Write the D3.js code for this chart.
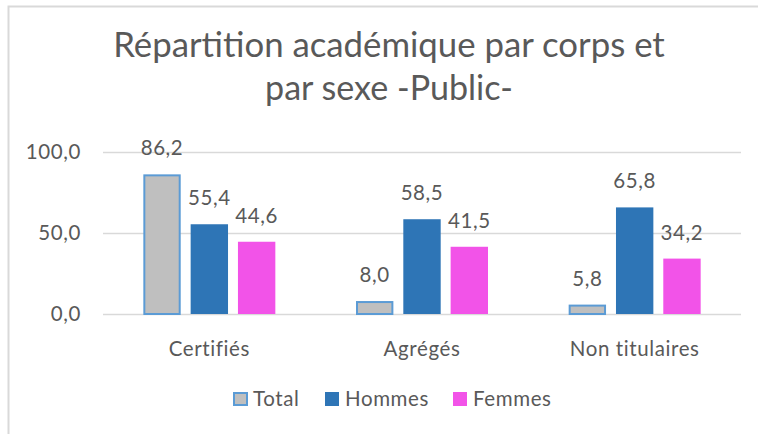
<!DOCTYPE html>
<html><head><meta charset="utf-8">
<script src="https://cdn.jsdelivr.net/npm/d3@7"></script>
<style>body{margin:0;background:#fff}svg{display:block}text{font-family:Lato,"Open Sans",sans-serif;fill:#595959}</style>
</head><body>
<script>
const categories = ["Certifiés", "Agrégés", "Non titulaires"];
const seriesNames = ["Total", "Hommes", "Femmes"];
const totalValues = [86.2, 8.0, 5.8];
const hommesValues = [55.4, 58.5, 65.8];
const femmesValues = [44.6, 41.5, 34.2];
const yTicks = [0, 50, 100];
const titleLines = ["Répartition académique par corps et", "par sexe -Public-"];

const W = 758, H = 434;
const fmt = v => v.toFixed(1).replace(".", ",");
const svg = d3.select("body").append("svg").attr("width", W).attr("height", H);
svg.append("rect").attr("width", W).attr("height", H).attr("fill", "#fff");
svg.append("path").attr("d", `M8.5,${H} V6.5 H${W}`).attr("fill", "none").attr("stroke", "#D9D9D9").attr("stroke-width", 2);

const titleTargets = [552, 248];
titleLines.forEach((t, i) => {
  const el = svg.append("text").attr("x", 389).attr("y", [57, 100][i]).attr("text-anchor", "middle").attr("font-size", 30).text(t);
  const w = el.node().getComputedTextLength();
  el.attr("font-size", 30 * titleTargets[i] / w);
});

const FS = 20.5, LS = 0.6;
const left = 103, right = 741;
const y = d3.scaleLinear().domain([0, 100]).range([314, 152]);
const x0 = d3.scaleBand().domain(categories).range([left, right]).padding(0);
const groupW = 132;
const x1 = d3.scaleBand().domain(seriesNames).range([0, groupW]).paddingInner(0.21);

svg.append("g").selectAll("line").data(yTicks).join("line")
  .attr("x1", left).attr("x2", right).attr("y1", d => Math.round(y(d)) + 0.5).attr("y2", d => Math.round(y(d)) + 0.5)
  .attr("stroke", "#D9D9D9").attr("stroke-width", 1.5);
svg.append("g").selectAll("text").data(yTicks).join("text")
  .attr("x", 81).attr("y", d => y(d) + 7).attr("text-anchor", "end").attr("font-size", FS).attr("letter-spacing", LS).text(d => fmt(d));

const data = [totalValues, hommesValues, femmesValues];
const fills = ["#BFBFBF", "#2E75B6", "#F253E8"];
const strokes = ["#5B9BD5", "none", "none"];
seriesNames.forEach((s, si) => {
  const g = svg.append("g");
  categories.forEach((c, ci) => {
    const v = data[si][ci];
    const gx = x0(c) + (x0.bandwidth() - groupW) / 2;
    const bx = gx + x1(s);
    if (si === 0) {
      g.append("rect").attr("x", bx + 1).attr("y", y(v) + 1).attr("width", x1.bandwidth() - 2).attr("height", y(0) - y(v) - 1)
        .attr("fill", fills[si]).attr("stroke", strokes[si]).attr("stroke-width", 2);
    } else {
      g.append("rect").attr("x", bx).attr("y", y(v)).attr("width", x1.bandwidth()).attr("height", y(0) - y(v)).attr("fill", fills[si]);
    }
    svg.append("text").attr("x", bx + x1.bandwidth() / 2).attr("y", y(v) - 19).attr("text-anchor", "middle").attr("font-size", FS).attr("letter-spacing", LS).text(fmt(v));
  });
});

svg.append("g").selectAll("text").data(categories).join("text")
  .attr("x", d => x0(d) + x0.bandwidth() / 2).attr("y", 356).attr("text-anchor", "middle").attr("font-size", FS).attr("letter-spacing", LS).text(d => d);

const legX = [233, 325, 453];
seriesNames.forEach((s, i) => {
  if (i === 0) {
    svg.append("rect").attr("x", legX[i] + 1).attr("y", 393).attr("width", 13).attr("height", 12).attr("fill", fills[i]).attr("stroke", strokes[i]).attr("stroke-width", 2);
  } else {
    svg.append("rect").attr("x", legX[i]).attr("y", 392).attr("width", 14).attr("height", 14).attr("fill", fills[i]);
  }
  svg.append("text").attr("x", legX[i] + 20).attr("y", 406).attr("font-size", FS).attr("letter-spacing", LS).text(s);
});
</script>
</body></html>
